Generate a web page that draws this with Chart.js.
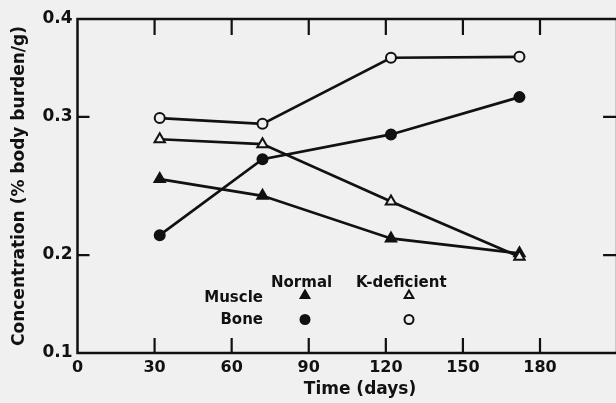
<!DOCTYPE html>
<html><head><meta charset="utf-8">
<script src="https://cdn.jsdelivr.net/npm/chart.js@4/dist/chart.umd.min.js"></script>
<style>
html,body{margin:0;padding:0;background:#f0f0f0;overflow:hidden;width:616px;height:403px;}
#wrap{width:616px;height:403px;overflow:hidden;position:relative;}
#c{display:block;}
</style></head><body>
<div id="wrap"><canvas id="c" width="616" height="403"></canvas></div>
<script>
// ---- data ----
const days = [32, 72, 122, 172];
const muscleNormal = [0.250, 0.238, 0.210, 0.201];
const muscleKdef   = [0.281, 0.277, 0.234, 0.199];
const boneNormal   = [0.212, 0.265, 0.285, 0.318];
const boneKdef     = [0.299, 0.294, 0.357, 0.358];
const xTickValues = [0, 30, 60, 90, 120, 150, 180];
const yTickValues = [0.15, 0.2, 0.3, 0.4];
const yTickLabels = ['0.1', '0.2', '0.3', '0.4'];
const legendColumns = ['Normal', 'K-deficient'];
const legendRows = ['Muscle', 'Bone'];
const xTitle = 'Time (days)';
const yTitle = 'Concentration (% body burden/g)';

const INK = '#111';
const BG = '#f0f0f0';
const FONT = '"DejaVu Sans", sans-serif';
const X_FRAME_END = 210;            // right edge of the plot frame (just past the window edge)
const PX_PER_DAY = (540 - 77.5) / 180; // horizontal scale of the reference

function pts(ys){ return days.map((d,i)=>({x:d, y:ys[i]})); }
function ds(ys, style, open){
  return {
    data: pts(ys), borderColor: INK, borderWidth: 2.7,
    pointStyle: style, pointRadius: style==='triangle'?6:5, pointHoverRadius: style==='triangle'?6:5,
    pointBackgroundColor: open?BG:INK, pointBorderColor: INK, pointBorderWidth: 2,
    fill:false, tension:0, clip:false
  };
}

const framePlugin = {
  id:'frame',
  beforeDatasetsDraw(chart){
    const {ctx, chartArea:a, scales:{x,y}} = chart;
    const R = Math.max(a.right, x.getPixelForValue(X_FRAME_END));
    ctx.save();
    ctx.strokeStyle = INK; ctx.lineWidth = 2.5;
    ctx.strokeRect(a.left, a.top, R-a.left, a.bottom-a.top);
    ctx.lineWidth = 2.2;
    ctx.beginPath();
    xTickValues.forEach(v=>{
      if (v<=0 || v>=X_FRAME_END) return;
      const px = x.getPixelForValue(v);
      ctx.moveTo(px, a.bottom); ctx.lineTo(px, a.bottom-15);
      ctx.moveTo(px, a.top); ctx.lineTo(px, a.top+16);
    });
    yTickValues.forEach(v=>{
      if (v<=y.min || v>=y.max) return;
      const py = y.getPixelForValue(v);
      ctx.moveTo(a.left, py); ctx.lineTo(a.left+12, py);
      ctx.moveTo(R, py); ctx.lineTo(R-14, py);
    });
    ctx.stroke();
    ctx.restore();
  },
  afterDraw(chart){
    const ctx = chart.ctx;
    ctx.save();
    ctx.fillStyle = INK;
    ctx.textBaseline = 'middle';
    ctx.textAlign = 'center';
    ctx.font = 'bold 17px ' + FONT;
    ctx.fillText(xTitle, 360, 390);
    ctx.font = 'bold 15px ' + FONT;
    ctx.textBaseline = 'alphabetic';
    ctx.textAlign = 'left';
    ctx.fillText(legendColumns[0], 271, 287);
    ctx.fillText(legendColumns[1], 356, 287);
    ctx.textAlign = 'right';
    ctx.fillText(legendRows[0], 263, 302);
    ctx.fillText(legendRows[1], 263, 323.5);
    const H = Chart.helpers;
    ctx.strokeStyle = INK; ctx.lineWidth = 2;
    const mk = (style, r, open, px, py) => {
      ctx.fillStyle = open?BG:INK;
      H.drawPoint(ctx, {pointStyle:style, radius:r, borderWidth:2, rotation:0}, px, py);
    };
    mk('triangle', 5, false, 305, 295.5);
    mk('triangle', 5, true, 409, 295.5);
    mk('circle', 4.5, false, 305, 319.5);
    mk('circle', 4.5, true, 409, 319.5);
    ctx.restore();
  }
};

const chart = new Chart(document.getElementById('c'), {
  type:'line',
  data:{ datasets:[
    ds(boneKdef, 'circle', true),
    ds(boneNormal, 'circle', false),
    ds(muscleKdef, 'triangle', true),
    ds(muscleNormal, 'triangle', false)
  ]},
  options:{
    responsive:false, animation:false, devicePixelRatio:1,
    layout:{padding:{top:19, right:0, left:0, bottom:0}},
    plugins:{legend:{display:false}, tooltip:{enabled:false}},
    scales:{
      x:{
        type:'linear', min:0, max:X_FRAME_END,
        afterBuildTicks(s){ s.ticks = xTickValues.map(v=>({value:v})); },
        afterFit(s){ s.height = 50; s.paddingLeft = 0; s.paddingRight = 0; },
        grid:{display:false, drawTicks:false},
        border:{display:false},
        ticks:{autoSkip:false, maxRotation:0, padding:5, color:INK, font:{family:FONT, size:16, weight:'bold'}},
        title:{display:false}
      },
      y:{
        type:'logarithmic', min:0.15, max:0.4,
        afterBuildTicks(s){ s.ticks = yTickValues.map(v=>({value:v})); },
        afterFit(s){ s.width = 77.5; s.paddingTop = 0; s.paddingBottom = 0; },
        grid:{display:false, drawTicks:false},
        border:{display:false},
        ticks:{autoSkip:false, padding:5, color:INK, font:{family:FONT, size:17, weight:'bold'},
          callback:(v,i)=>yTickLabels[i]},
        title:{display:true, text:yTitle, color:INK, font:{family:FONT, size:17, weight:'bold'}, padding:{top:9,bottom:0}}
      }
    }
  },
  plugins:[framePlugin]
});
// keep the reference's day-to-pixel scale; the frame continues to X_FRAME_END past the window edge
const area = chart.chartArea;
chart.options.scales.x.max = (area.right - area.left) / PX_PER_DAY;
chart.update();
</script>
</body></html>
